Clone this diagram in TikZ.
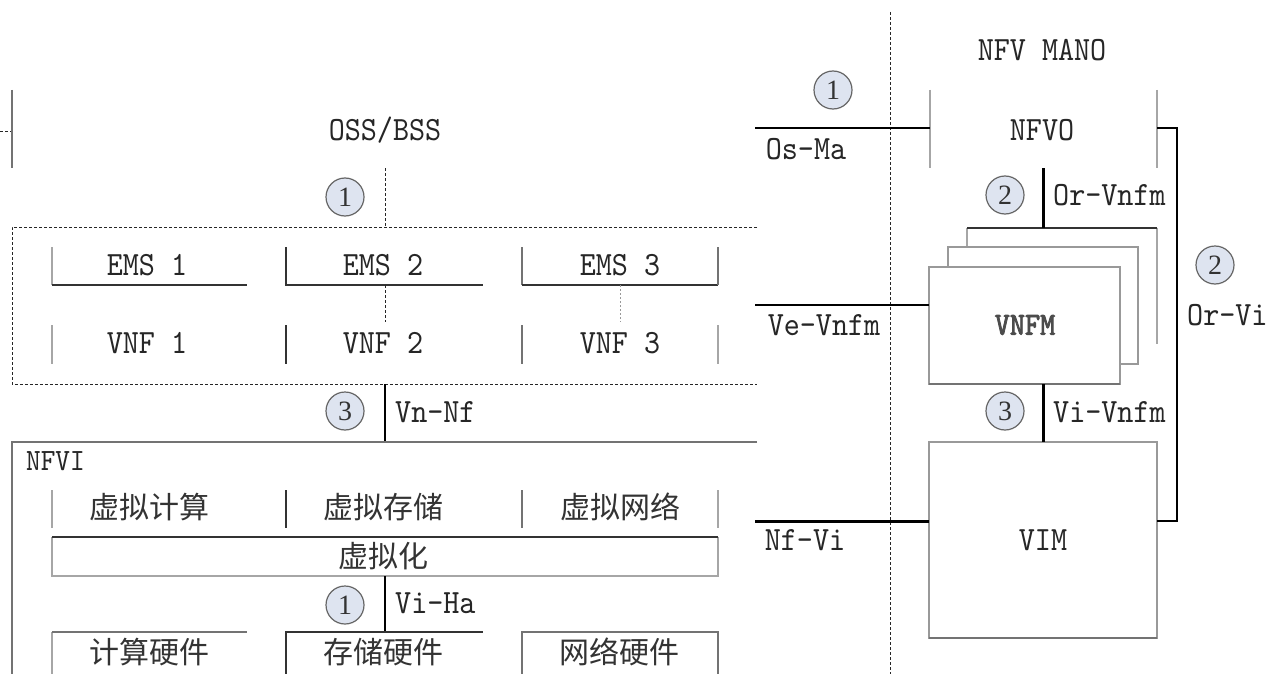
\documentclass[tikz,border=0pt]{standalone}
\usepackage{fontspec}
\setmainfont{Liberation Serif}
\newfontfamily\latf[Extension=.otf, FakeStretch=0.9]{lmmono10-regular}
\newfontfamily\latb[Extension=.otf, FakeStretch=0.9, FakeBold=2.5]{lmmono10-regular}
\newfontfamily\cjkf{Noto Sans CJK SC}
\definecolor{numfill}{RGB}{222,228,240}
\begin{document}
\begin{tikzpicture}[x=1pt,y=-1pt,
  lbl/.style={font=\latf\fontsize{34}{36}\selectfont, text=black!85, inner sep=0pt},
  ifl/.style={lbl, anchor=west},
  zh/.style={font=\cjkf\fontsize{30}{32}\selectfont, text=black!80, inner sep=0pt},
  num/.style={circle, draw=black!60, line width=1.2pt, fill=numfill, minimum size=38pt, inner sep=0pt, font=\fontsize{28}{28}\selectfont, text=black!80},
  lt/.style={draw=black!35, line width=1.2pt},
  md/.style={draw=black!55, line width=1.3pt},
  dk/.style={draw=black!80, line width=1.6pt},
  ifc/.style={draw=black, line width=3pt},
  dl/.style={draw=black!85, line width=1pt, dash pattern=on 3pt off 2pt},
  dt/.style={draw=black!40, line width=0.8pt, dash pattern=on 2pt off 2pt},
  boxw/.style={draw=black!40, line width=1.2pt, fill=white}
]
\useasboundingbox (0,0) rectangle (1277,674);
\fill[white] (0,0) rectangle (1277,674);

% ---------------- OSS/BSS (partial) ----------------
\draw[dl] (0,132) -- (12,132);
\draw[md] (12,90) -- (12,168);
\node[lbl] (oss) at (385,130) {OSS/BSS};
\coordinate (ossb) at (385,168);
\coordinate (vdtop) at (385,227);
\node[num] (n1a) at (345,197) {1};

% ---------------- VNF domain (dashed) ----------------
\draw[dl] (757,227) -- (12,227) -- (12,384) -- (757,384);
\draw[dl] (ossb) -- (vdtop);

% EMS row
\draw[lt] (52,247) -- (52,285);
\draw[dk] (52,285) -- (247,285);
\draw[dk] (286,247) -- (286,285) -- (483,285);
\draw[md] (522,247) -- (522,285);
\draw[dk] (522,285) -- (718,285);
\draw[md] (718,247) -- (718,285);
\node[lbl] (ems1) at (147,265) {EMS 1};
\node[lbl] (ems2) at (383,265) {EMS 2};
\node[lbl] (ems3) at (620,265) {EMS 3};

% VNF row
\coordinate (e2b) at (385,285);
\coordinate (v2t) at (385,322);
\coordinate (e3b) at (620,285);
\coordinate (v3t) at (620,322);
\draw[dl] (e2b) -- (v2t);
\draw[dt] (e3b) -- (v3t);
\draw[lt] (52,325) -- (52,364);
\draw[dk] (286,325) -- (286,364);
\draw[md] (522,325) -- (522,364);
\draw[lt] (718,325) -- (718,364);
\node[lbl] (vnf1) at (147,343) {VNF 1};
\node[lbl] (vnf2) at (383,343) {VNF 2};
\node[lbl] (vnf3) at (620,343) {VNF 3};

% Vn-Nf
\coordinate (vdb) at (385,384);
\coordinate (nfvit) at (385,442);
\draw[ifc, line width=2.5pt] (vdb) -- (nfvit);
\node[num] (n3a) at (345,411) {3};
\node[ifl] (vnnf) at (395,412) {Vn-Nf};

% ---------------- NFVI ----------------
\draw[md] (757,442) -- (12,442) -- (12,674);
\node[lbl, anchor=west, font=\latf\fontsize{31}{33}\selectfont] (nfvi) at (26,461) {NFVI};

% virtual resources row
\draw[lt] (52,490) -- (52,528);
\draw[dk] (286,490) -- (286,528);
\draw[md] (522,490) -- (522,528);
\draw[lt] (718,490) -- (718,528);
\node[zh] (vcomp) at (149,507) {虚拟计算};
\node[zh] (vstor) at (383,507) {虚拟存储};
\node[zh] (vnet)  at (620,507) {虚拟网络};

% virtualisation layer
\draw[lt] (52,537) -- (52,576) -- (718,576) -- (718,537);
\draw[dk] (52,537) -- (718,537);
\node[zh] (virt) at (383,556) {虚拟化};

% Vi-Ha
\coordinate (virtb) at (385,576);
\coordinate (hwt) at (385,632);
\draw[ifc, line width=2.2pt] (virtb) -- (hwt);
\node[num] (n1b) at (345,605) {1};
\node[ifl] (viha) at (395,603) {Vi-Ha};

% hardware row
\draw[lt] (52,674) -- (52,632);
\draw[md] (52,632) -- (247,632);
\draw[dk] (286,674) -- (286,632) -- (483,632);
\draw[md] (522,674) -- (522,632) -- (718,632) -- (718,674);
\node[zh] (hcomp) at (149,652) {计算硬件};
\node[zh] (hstor) at (383,652) {存储硬件};
\node[zh] (hnet)  at (619,652) {网络硬件};

% ---------------- separator ----------------
\draw[dl] (890,12) -- (890,674);

% ---------------- NFV MANO ----------------
\node[lbl] (mano) at (1042,50) {NFV MANO};
\node[num] (n1c) at (833,90) {1};
\draw[lt] (930,90) -- (930,168);
\draw[lt] (1157,90) -- (1157,168);
\node[lbl] (nfvo) at (1042,130) {NFVO};

% Os-Ma
\coordinate (osmaL) at (755,128);
\coordinate (nfvoL) at (930,128);
\draw[ifc, line width=2.2pt] (osmaL) -- (nfvoL);
\node[lbl] (osma) at (806,149) {Os-Ma};

% VNFM stack
\draw[lt] (967,247) -- (967,228);
\draw[lt] (1157,228) -- (1157,344);
\draw[dk, line width=2pt] (967,228) -- (1157,228);
\draw[boxw] (948,247) rectangle (1138,364);
\draw[boxw] (929,267) rectangle (1120,384);
\draw[md, line width=1.8pt] (929,384) -- (1120,384);
\node[lbl, font=\latb\fontsize{32}{34}\selectfont, text=black!70] (vnfm) at (1025,325) {VNFM};

% Or-Vnfm
\coordinate (nfvob) at (1043,168);
\coordinate (vnfmt) at (1043,228);
\draw[ifc] (nfvob) -- (vnfmt);
\node[num] (n2a) at (1005,195) {2};
\node[ifl] (orvnfm) at (1053,195) {Or-Vnfm};

% Ve-Vnfm
\coordinate (vevnfmL) at (755,305);
\coordinate (vnfmL) at (929,305);
\draw[ifc, line width=2.6pt] (vevnfmL) -- (vnfmL);
\node[lbl] (vevnfm) at (824,325) {Ve-Vnfm};

% VIM
\draw[boxw] (929,442) rectangle (1157,638);
\draw[md, line width=1.6pt] (929,638) -- (1157,638);
\node[lbl] (vim) at (1043,540) {VIM};

% Vi-Vnfm
\coordinate (vnfmb) at (1043,384);
\coordinate (vimt) at (1043,442);
\draw[ifc] (vnfmb) -- (vimt);
\node[num] (n3b) at (1005,411) {3};
\node[ifl] (vivnfm) at (1053,412) {Vi-Vnfm};

% Nf-Vi
\coordinate (nfviL) at (755,521);
\coordinate (vimL) at (929,521);
\draw[ifc] (nfviL) -- (vimL);
\node[lbl] (nfvilbl) at (805,540) {Nf-Vi};

% Or-Vi
\coordinate (nfvoR) at (1157,128);
\coordinate (vimR) at (1157,521);
\draw[ifc, line width=2.6pt] (nfvoR) -- (1177,128) -- (1177,521) -- (vimR);
\node[num] (n2b) at (1215,265) {2};
\node[ifl] (orvi) at (1187,315) {Or-Vi};
\end{tikzpicture}
\end{document}
